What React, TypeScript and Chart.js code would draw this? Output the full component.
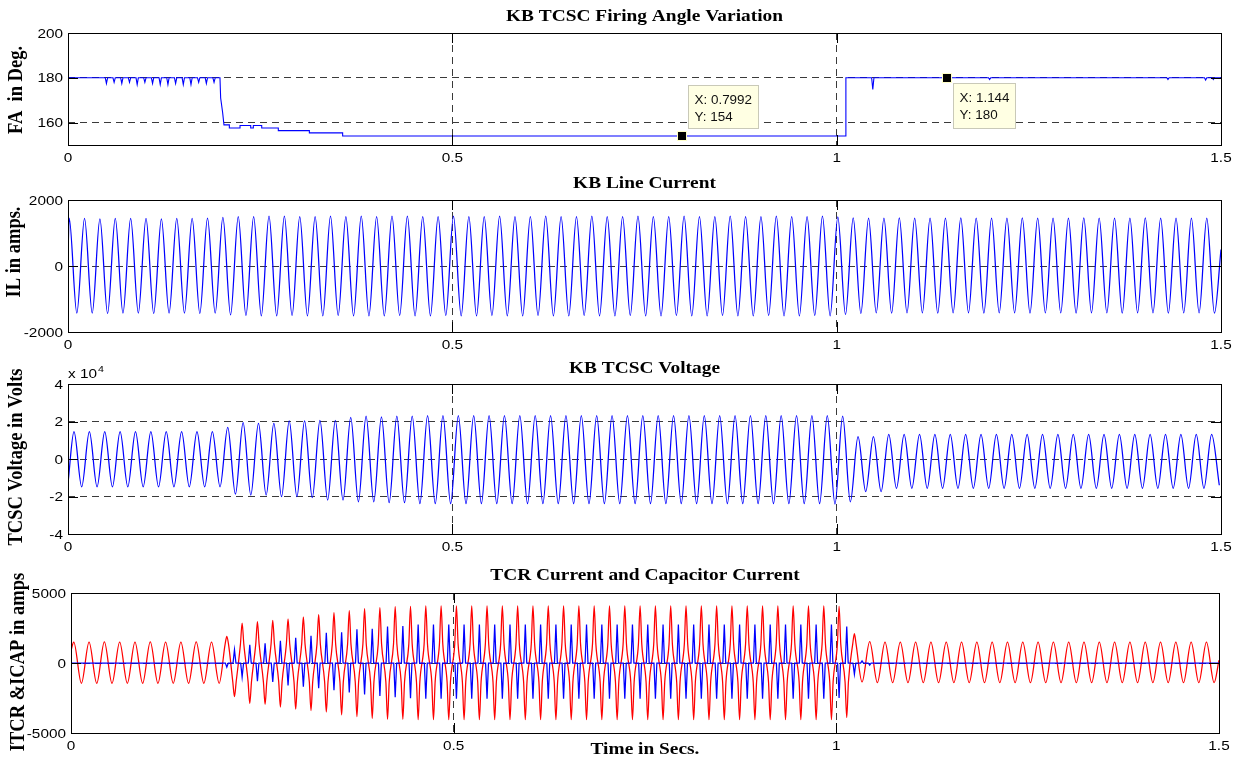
import React, { useEffect, useRef } from "react";
import { Chart, registerables } from "chart.js";
Chart.register(...registerables);

// ---------------- data ----------------
const xTicks = [0, 0.5, 1, 1.5];
const xTickLabels = ["0", "0.5", "1", "1.5"];
const halfPeriod = 0.01;

// Plot 1: firing angle
const faTicks = [160, 180, 200];
const faTickLabels = ["160", "180", "200"];
const faBase = 180;
const faTimes = [0, 0.1977, 0.1986, 0.2012, 0.2029, 0.2099, 0.2099, 0.2238, 0.2238, 0.2377, 0.2377, 0.2411, 0.2411, 0.252, 0.252, 0.2736, 0.2736, 0.314, 0.314, 0.3573, 0.3573, 1.012, 1.012, 1.5];
const faValues = [180, 180, 171, 164.4, 159, 159, 157.6, 157.6, 158.7, 158.7, 157.6, 157.6, 158.7, 158.7, 157.6, 157.6, 156.4, 156.4, 155.4, 155.4, 154, 154, 180, 180];
const faSpikeTimes = [0.05, 0.06, 0.07, 0.08, 0.09, 0.1, 0.11, 0.12, 0.13, 0.14, 0.15, 0.16, 0.17, 0.18, 0.19, 1.047, 1.199, 1.431, 1.48, 1.49];
const faSpikeValues = [177.5, 178, 177.5, 178, 177, 178, 177.5, 177, 177, 177.5, 177, 177, 178, 177.5, 178, 174.8, 179.2, 179.2, 179, 179.2];
const tipX = [0.7992, 1.144];
const tipY = [154, 180];

// Plot 2: line current
const ilTicks = [-2000, 0, 2000];
const ilTickLabels = ["-2000", "0", "2000"];
const ilPhase = 0.0015;
const ilStart = 300;
const ilEnd = 500;
const ilPos = [1450, 1440, 1430, 1440, 1440, 1440, 1430, 1440, 1440, 1450,
  1470, 1500, 1500, 1510, 1510, 1500, 1500, 1510, 1500, 1510,
  1500, 1510, 1510, 1500, 1500, 1510, 1500, 1500, 1510, 1500,
  1500, 1510, 1500, 1500, 1510, 1500, 1500, 1510, 1500, 1500,
  1510, 1500, 1500, 1510, 1500, 1500, 1510, 1500, 1500, 1510,
  1490, 1460, 1450, 1450, 1460, 1450, 1450, 1450, 1460, 1450,
  1450, 1450, 1460, 1450, 1450, 1450, 1460, 1450, 1450, 1450,
  1460, 1450, 1450, 1450, 1450];
const ilNeg = [-1430, -1430, -1440, -1430, -1430, -1440, -1430, -1430, -1440, -1430,
  -1480, -1500, -1510, -1510, -1500, -1510, -1510, -1500, -1510, -1510,
  -1510, -1500, -1510, -1510, -1500, -1510, -1510, -1500, -1510, -1510,
  -1500, -1510, -1510, -1500, -1510, -1510, -1500, -1510, -1510, -1500,
  -1510, -1510, -1500, -1510, -1510, -1500, -1510, -1510, -1500, -1510,
  -1470, -1440, -1420, -1430, -1420, -1420, -1430, -1420, -1420, -1430,
  -1420, -1420, -1430, -1420, -1420, -1430, -1420, -1420, -1430, -1420,
  -1420, -1430, -1420, -1420, -1430];

// Plot 3: TCSC voltage (x 10^4 V)
const vTicks = [-4, -2, 0, 2, 4];
const vTickLabels = ["-4", "-2", "0", "2", "4"];
const vPhase = 0.0078;
const vStart = -1.3;
const vPos = [1.46, 1.46, 1.46, 1.46, 1.46, 1.46, 1.46, 1.46, 1.46, 1.46,
  1.69, 1.94, 1.9, 1.9, 2.04, 2.04, 2.06, 2.06, 2.22, 2.29,
  2.25, 2.29, 2.29, 2.31, 2.31, 2.31, 2.31, 2.31, 2.31, 2.31,
  2.31, 2.31, 2.31, 2.31, 2.31, 2.31, 2.31, 2.31, 2.31, 2.31,
  2.31, 2.31, 2.31, 2.31, 2.31, 2.31, 2.31, 2.31, 2.31, 2.31,
  2.29, 1.19, 1.2, 1.32, 1.32, 1.32, 1.32, 1.32, 1.32, 1.32,
  1.32, 1.32, 1.32, 1.32, 1.32, 1.32, 1.32, 1.32, 1.32, 1.32,
  1.32, 1.32, 1.32, 1.32, 1.32];
const vNeg = [-1.48, -1.48, -1.48, -1.48, -1.48, -1.48, -1.48, -1.48, -1.48, -1.48,
  -1.87, -1.92, -1.92, -2.01, -2.01, -2.06, -2.19, -2.19, -2.28, -2.28,
  -2.33, -2.33, -2.38, -2.38, -2.38, -2.38, -2.38, -2.38, -2.38, -2.38,
  -2.38, -2.38, -2.38, -2.38, -2.38, -2.38, -2.38, -2.38, -2.38, -2.38,
  -2.38, -2.38, -2.38, -2.38, -2.38, -2.38, -2.38, -2.38, -2.38, -2.4,
  -2.28, -1.74, -1.74, -1.56, -1.56, -1.56, -1.56, -1.56, -1.56, -1.56,
  -1.56, -1.56, -1.56, -1.56, -1.56, -1.56, -1.56, -1.56, -1.56, -1.56,
  -1.56, -1.56, -1.56, -1.56, -1.4];

// Plot 4: TCR current (blue) and capacitor current (red)
const iTicks = [-5000, 0, 5000];
const iTickLabels = ["-5000", "0", "5000"];
const iPhase = 0.0036;
const capStart = 900;
const capEnd = 200;
const capShoulder = 1350;
const capPos = [1500, 1500, 1510, 1500, 1500, 1510, 1500, 1500, 1510, 1500,
  1900, 2850, 2950, 3050, 3150, 3300, 3450, 3600, 3750, 3880,
  3950, 4020, 4050, 4080, 4080, 4080, 4080, 4080, 4080, 4080,
  4080, 4080, 4080, 4080, 4080, 4080, 4080, 4080, 4080, 4080,
  4080, 4080, 4080, 4080, 4080, 4080, 4080, 4080, 4080, 4080,
  4050, 2100, 1520, 1500, 1500, 1500, 1500, 1500, 1500, 1500,
  1500, 1500, 1500, 1500, 1500, 1500, 1500, 1500, 1500, 1500,
  1500, 1500, 1500, 1500, 1500];
const capNeg = [-1450, -1450, -1450, -1450, -1450, -1450, -1450, -1450, -1450, -1450,
  -2400, -2900, -2950, -3150, -3300, -3400, -3500, -3700, -3830, -3950,
  -4020, -4020, -4050, -4050, -4050, -4050, -4050, -4050, -4050, -4050,
  -4050, -4050, -4050, -4050, -4050, -4050, -4050, -4050, -4050, -4050,
  -4050, -4050, -4050, -4050, -4050, -4050, -4050, -4050, -4050, -4050,
  -3900, -1350, -1400, -1400, -1400, -1400, -1400, -1400, -1400, -1400,
  -1400, -1400, -1400, -1400, -1400, -1400, -1400, -1400, -1400, -1400,
  -1400, -1400, -1400, -1400, -1400];
// TCR pulses: first half-cycle (negative) and second half-cycle (positive)
const tcrNeg = [0, 0, 0, 0, 0, 0, 0, 0, 0, 0,
  -300, -1000, -1300, -1350, -1600, -1700, -1800, -1950, -2100, -2250,
  -2350, -2450, -2520, -2550, -2550, -2550, -2550, -2550, -2550, -2550,
  -2550, -2550, -2550, -2550, -2550, -2550, -2550, -2550, -2550, -2550,
  -2550, -2550, -2550, -2550, -2550, -2550, -2550, -2550, -2550, -2550,
  -2500, -800, -150, 0, 0, 0, 0, 0, 0, 0,
  0, 0, 0, 0, 0, 0, 0, 0, 0, 0,
  0, 0, 0, 0, 0];
const tcrPos = [0, 0, 0, 0, 0, 0, 0, 0, 0, 0,
  950, 1300, 1400, 1580, 1800, 1950, 2150, 2200, 2400, 2450,
  2600, 2650, 2750, 2750, 2750, 2750, 2750, 2750, 2750, 2750,
  2750, 2750, 2750, 2750, 2750, 2750, 2750, 2750, 2750, 2750,
  2750, 2750, 2750, 2750, 2750, 2750, 2750, 2750, 2750, 2750,
  2600, 150, 0, 0, 0, 0, 0, 0, 0, 0,
  0, 0, 0, 0, 0, 0, 0, 0, 0, 0,
  0, 0, 0, 0, 0];

// ---------------- series builders ----------------
type P = { x: number; y: number };

function faPoints(): P[] {
  const pts: P[] = faTimes.map((t, i) => ({ x: t, y: faValues[i] }));
  faSpikeTimes.forEach((t, i) => {
    pts.push({ x: t - 0.0015, y: faBase }, { x: t, y: faSpikeValues[i] }, { x: t + 0.0015, y: faBase });
  });
  pts.sort((a, b) => a.x - b.x);
  return pts;
}

function wavePoints(phase: number, pos: number[], neg: number[], start: number | null, end: number | null): P[] {
  const pts: P[] = [];
  if (start !== null) pts.push({ x: 0, y: start });
  for (let k = 0; k < pos.length; k++) {
    const tp = phase + 2 * halfPeriod * k;
    const tn = tp + halfPeriod;
    if (tp <= 1.5) pts.push({ x: tp, y: pos[k] });
    if (tn <= 1.5) pts.push({ x: tn, y: neg[k] });
  }
  if (end !== null) pts.push({ x: 1.5, y: end });
  return pts;
}

function capPoints(): P[] {
  const pts: P[] = [{ x: 0, y: capStart }];
  const w = 0.0022;
  const add = (t: number, a: number) => {
    const s = Math.sign(a) * capShoulder;
    if (Math.abs(a) > capShoulder * 1.25) {
      pts.push({ x: t - w, y: s }, { x: t, y: a }, { x: t + w, y: s });
    } else pts.push({ x: t, y: a });
  };
  for (let k = 0; k < capPos.length; k++) {
    const tp = iPhase + 2 * halfPeriod * k;
    add(tp, capPos[k]);
    add(tp + halfPeriod, capNeg[k]);
  }
  pts.push({ x: 1.5, y: capEnd });
  return pts;
}

function tcrPoints(): P[] {
  const pts: P[] = [{ x: 0, y: 0 }];
  const w = 0.0019;
  const add = (t: number, a: number) => {
    if (a !== 0) pts.push({ x: t - w, y: 0 }, { x: t, y: a }, { x: t + w, y: 0 });
  };
  for (let k = 0; k < tcrPos.length; k++) {
    const t1 = iPhase + 2 * halfPeriod * k;
    add(t1, tcrNeg[k]);
    add(t1 + halfPeriod, tcrPos[k]);
  }
  pts.push({ x: 1.5, y: 0 });
  return pts;
}

// ---------------- drawing helpers ----------------
const TICK_FONT = '13px "Liberation Sans", Arial, sans-serif';
const TICK_SX = 1.18;
const GRID = "#3a3a3a";
const LW = 1.25;

function sText(ctx: CanvasRenderingContext2D, text: string, x: number, y: number, align: CanvasTextAlign, font: string, sx: number) {
  ctx.save();
  ctx.font = font;
  ctx.textAlign = align;
  ctx.textBaseline = "alphabetic";
  ctx.translate(x, y);
  ctx.scale(sx, 1);
  ctx.fillText(text, 0, 0);
  ctx.restore();
}

const deco = {
  id: "deco",
  afterDraw(chart: any, _args: any, o: any) {
    const { ctx, chartArea: a, scales } = chart;
    const xs = scales.x;
    const ys = scales.y;
    const L = a.left, R = a.right, T = a.top, B = a.bottom;
    ctx.save();
    ctx.strokeStyle = "#000";
    ctx.lineWidth = 1;
    ctx.setLineDash([]);
    ctx.strokeRect(L + 0.5, T + 0.5, R - L, B - T);
    ctx.beginPath();
    for (const v of xTicks) {
      const px = Math.round(xs.getPixelForValue(v)) + 0.5;
      ctx.moveTo(px, B); ctx.lineTo(px, B - 10);
      ctx.moveTo(px, T); ctx.lineTo(px, T + 10);
    }
    for (const v of o.yt) {
      const py = Math.round(ys.getPixelForValue(v)) + 0.5;
      ctx.moveTo(L, py); ctx.lineTo(L + 10, py);
      ctx.moveTo(R, py); ctx.lineTo(R - 10, py);
    }
    ctx.stroke();
    ctx.fillStyle = "#000";
    xTicks.forEach((v, i) => sText(ctx, xTickLabels[i], xs.getPixelForValue(v), B + 17, "center", TICK_FONT, TICK_SX));
    o.yt.forEach((v: number, i: number) => sText(ctx, o.yl[i], L - 5, ys.getPixelForValue(v) + 4.5, "right", TICK_FONT, TICK_SX));
    // title
    sText(ctx, o.title, (L + R) / 2, o.titleY, "center", 'bold 17px "Liberation Serif", serif', 1.14);
    // y title
    ctx.save();
    ctx.translate(o.ytX, o.ytY);
    ctx.scale(1.14, 1);
    ctx.rotate(-Math.PI / 2);
    ctx.font = 'bold 18.5px "Liberation Serif", serif';
    ctx.textAlign = "center";
    ctx.textBaseline = "middle";
    ctx.fillText(o.yTitle, 0, 0);
    ctx.restore();
    if (o.xTitle) sText(ctx, o.xTitle, (L + R) / 2, o.xTitleY, "center", 'bold 17px "Liberation Serif", serif', 1.14);
    if (o.exponent) {
      sText(ctx, "x 10", L, T - 6, "left", TICK_FONT, TICK_SX);
      ctx.font = TICK_FONT;
      const w = ctx.measureText("x 10").width * TICK_SX;
      sText(ctx, "4", L + w + 1, T - 12, "left", '9px "Liberation Sans", Arial, sans-serif', TICK_SX);
    }
    if (o.tips) {
      o.tips.forEach((b: any, i: number) => {
        const px = xs.getPixelForValue(tipX[i]);
        const py = ys.getPixelForValue(tipY[i]);
        const bx = Math.round(px + b.dx) + 0.5;
        const by = Math.round(py + b.dy) + 0.5;
        ctx.fillStyle = "#FFFFE3";
        ctx.fillRect(bx, by, b.w, b.h);
        ctx.strokeStyle = "#C9C9B8";
        ctx.strokeRect(bx, by, b.w, b.h);
        ctx.fillStyle = "#111";
        const f = '12px "Liberation Sans", Arial, sans-serif';
        sText(ctx, "X: " + tipX[i], bx + 6, by + 18, "left", f, 1.12);
        sText(ctx, "Y: " + tipY[i], bx + 6, by + 35, "left", f, 1.12);
        ctx.fillStyle = "#FFFFC8";
        ctx.fillRect(Math.round(px) - 5, Math.round(py) - 5, 10, 10);
        ctx.fillStyle = "#000";
        ctx.fillRect(Math.round(px) - 4, Math.round(py) - 4, 8, 8);
      });
    }
    ctx.restore();
  },
};

function makeConfig(p: any) {
  const yTicks: number[] = p.yt;
  return {
    type: "line",
    data: { datasets: p.datasets },
    plugins: [deco],
    options: {
      animation: false,
      responsive: false,
      maintainAspectRatio: false,
      devicePixelRatio: 1,
      events: [],
      layout: { padding: { left: 0, right: 1240 - p.right, top: p.top, bottom: 760 - p.bottom - 20 } },
      elements: { point: { radius: 0 }, line: { borderWidth: LW } },
      plugins: {
        legend: { display: false },
        tooltip: { enabled: false },
        title: { display: false },
        deco: p.deco,
      },
      scales: {
        x: {
          type: "linear",
          min: 0,
          max: 1.5,
          afterBuildTicks: (s: any) => { s.ticks = xTicks.map((v) => ({ value: v })); },
          afterFit: (s: any) => { s.height = 20; },
          ticks: { display: false },
          grid: { color: GRID, lineWidth: 1, drawTicks: false },
          border: { display: false, dash: [7, 5] },
        },
        y: {
          type: "linear",
          min: p.min,
          max: p.max,
          afterBuildTicks: (s: any) => { s.ticks = yTicks.map((v) => ({ value: v })); },
          afterFit: (s: any) => { s.width = p.left; },
          ticks: { display: false },
          grid: { color: GRID, lineWidth: 1, drawTicks: false },
          border: { display: false, dash: [7, 5] },
        },
      },
    },
  };
}

const panels = [
  {
    left: 68, right: 1221, top: 33, bottom: 145, min: 150, max: 200, yt: faTicks,
    datasets: () => [{ data: faPoints(), borderColor: "#0000FF", borderWidth: 1.1 }],
    deco: { yt: faTicks, yl: faTickLabels, title: "KB TCSC Firing Angle Variation", titleY: 21, yTitle: "FA  in Deg.", ytX: 17, ytY: 90, tips: [{ dx: 6, dy: -51, w: 70, h: 43 }, { dx: 6, dy: 5, w: 62, h: 45 }] },
  },
  {
    left: 68, right: 1221, top: 200, bottom: 332, min: -2000, max: 2000, yt: ilTicks,
    datasets: () => [{ data: wavePoints(ilPhase, ilPos, ilNeg, ilStart, ilEnd), borderColor: "#0000FF", borderWidth: LW, cubicInterpolationMode: "monotone" }],
    deco: { yt: ilTicks, yl: ilTickLabels, title: "KB Line Current", titleY: 188, yTitle: "IL in amps.", ytX: 15, ytY: 252 },
  },
  {
    left: 68, right: 1221, top: 384, bottom: 534, min: -4, max: 4, yt: vTicks,
    datasets: () => [{ data: wavePoints(vPhase, vPos, vNeg, vStart, null), borderColor: "#0000FF", borderWidth: LW, cubicInterpolationMode: "monotone" }],
    deco: { yt: vTicks, yl: vTickLabels, title: "KB TCSC Voltage", titleY: 373, yTitle: "TCSC Voltage in Volts", ytX: 17, ytY: 457, exponent: true },
  },
  {
    left: 71, right: 1219, top: 593, bottom: 733, min: -5000, max: 5000, yt: iTicks,
    datasets: () => [
      { data: tcrPoints(), borderColor: "#0000FF", borderWidth: LW },
      { data: capPoints(), borderColor: "#FF0000", borderWidth: LW, cubicInterpolationMode: "monotone" },
    ],
    deco: { yt: iTicks, yl: iTickLabels, title: "TCR Current and Capacitor Current", titleY: 580, yTitle: "ITCR &ICAP in amps", ytX: 19, ytY: 662, xTitle: "Time in Secs.", xTitleY: 754 },
  },
];

function Panel({ idx }: { idx: number }) {
  const ref = useRef<HTMLCanvasElement | null>(null);
  useEffect(() => {
    const p = panels[idx];
    const cfg: any = makeConfig({ ...p, datasets: p.datasets() });
    const chart = new Chart(ref.current as HTMLCanvasElement, cfg);
    return () => chart.destroy();
  }, [idx]);
  return (
    <canvas
      ref={ref}
      width={1240}
      height={760}
      style={{ position: "absolute", left: 0, top: 0, width: 1240, height: 760 }}
    />
  );
}

export default function App() {
  return (
    <div style={{ position: "absolute", left: 0, top: 0, width: 1240, height: 760, background: "#fff", overflow: "hidden" }}>
      {panels.map((_, i) => (
        <Panel key={i} idx={i} />
      ))}
    </div>
  );
}
